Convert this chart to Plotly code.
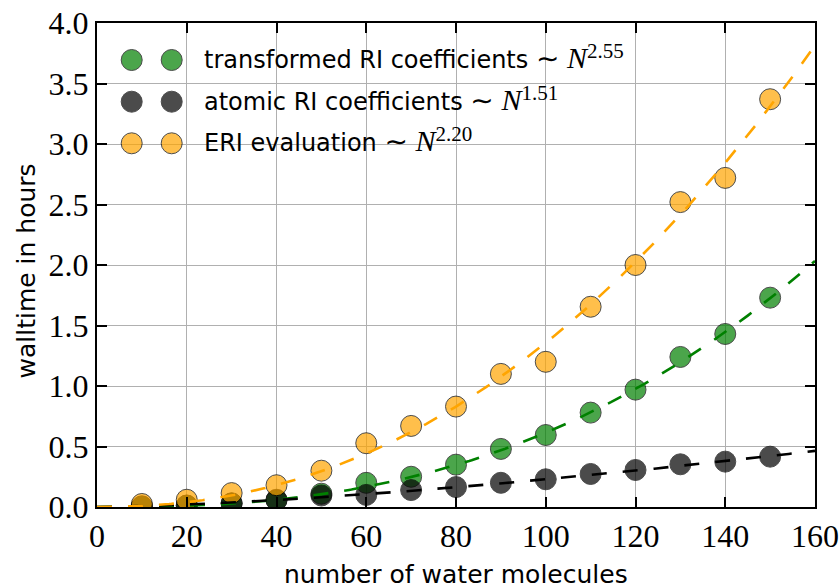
import numpy as np
import plotly.graph_objects as go

# ---- data ----
n_water = [10, 20, 30, 40, 50, 60, 70, 80, 90, 100, 110, 120, 130, 140, 150]
t_transformed = [0.005, 0.012, 0.03, 0.056, 0.11, 0.20, 0.25, 0.35, 0.48, 0.595, 0.78, 0.97, 1.24, 1.43, 1.73]
t_atomic = [0.005, 0.012, 0.03, 0.06, 0.095, 0.10, 0.14, 0.165, 0.20, 0.229, 0.273, 0.306, 0.353, 0.375, 0.416]
t_eri = [0.025, 0.06, 0.115, 0.18, 0.30, 0.527, 0.67, 0.83, 1.10, 1.20, 1.655, 2.00, 2.52, 2.72, 3.37]

# power-law fits  t = a * N^p
fit_prefactor = {"transformed": 4.87e-6, "atomic": 2.18e-4, "eri": 5.4e-5}
fit_exponent = {"transformed": 2.55, "atomic": 1.51, "eri": 2.20}
fit_range = [0, 160]

labels = {
    "transformed": "transformed RI coefficients",
    "atomic": "atomic RI coefficients",
    "eri": "ERI evaluation",
}
x_ticks = [0, 20, 40, 60, 80, 100, 120, 140, 160]
y_ticks = [0.0, 0.5, 1.0, 1.5, 2.0, 2.5, 3.0, 3.5, 4.0]

colors = {"transformed": "#008000", "atomic": "#000000", "eri": "#FFA500"}
series = {"transformed": t_transformed, "atomic": t_atomic, "eri": t_eri}
order = ["transformed", "atomic", "eri"]

SERIF = "Liberation Serif"
SANS = "DejaVu Sans"

fig = go.Figure()

for key in order:
    fig.add_trace(go.Scatter(
        x=n_water, y=series[key], mode="markers",
        marker=dict(size=21, color=colors[key], opacity=0.7,
                    line=dict(color="black", width=1)),
        showlegend=False, cliponaxis=True,
    ))

xf = np.linspace(fit_range[0], fit_range[1], 300)
for key in order:
    yf = fit_prefactor[key] * xf ** fit_exponent[key]
    fig.add_trace(go.Scatter(
        x=xf, y=yf, mode="lines",
        line=dict(color=colors[key], width=2.6, dash="15px,16px"),
        showlegend=False, hoverinfo="skip",
    ))

# ---- manual legend (two markers per entry, like the reference) ----
L, R, T, B = 97, 25, 23, 78
W, H = 840 - L - R, 585 - T - B
def px_x(p):
    return (p - L) / W
def px_y(p):
    return (T + H - p) / H

shapes = []
annotations = []
row_y = [60, 101.7, 143.3]
for i, key in enumerate(order):
    for cx in (131.7, 171.7):
        shapes.append(dict(
            type="circle", xref="paper", yref="paper",
            xsizemode="pixel", ysizemode="pixel",
            xanchor=px_x(cx), yanchor=px_y(row_y[i]),
            x0=-10.5, x1=10.5, y0=-10.5, y1=10.5,
            fillcolor=colors[key], opacity=0.7,
            line=dict(color="black", width=1), layer="above",
        ))
    exp = f"{fit_exponent[key]:.2f}"
    txt = (f"{labels[key]} "
           f"<span style=\"font-family:DejaVu Sans;font-size:28px\">∼</span> "
           f"<span style=\"font-family:{SERIF};font-size:30px\"><i>N</i></span>"
           f"<sup><span style=\"font-family:{SERIF};font-size:21px\">{exp}</span></sup>")
    annotations.append(dict(
        xref="paper", yref="paper", x=px_x(202), y=px_y(row_y[i] - 3),
        xanchor="left", yanchor="middle", text=txt, showarrow=False,
        font=dict(family=SANS, size=24, color="black"),
    ))

annotations.append(dict(
    xref="paper", yref="paper", x=0.5, y=0, yanchor="middle", xanchor="center",
    yshift=-67.5, text="number of water molecules", showarrow=False,
    font=dict(family=SANS, size=25, color="black"),
))
annotations.append(dict(
    xref="paper", yref="paper", x=0, y=px_y(271), xanchor="center", yanchor="middle",
    xshift=-71.5, text="walltime in hours", textangle=-90, showarrow=False,
    font=dict(family=SANS, size=25, color="black"),
))

axis_common = dict(
    showline=True, linecolor="black", linewidth=2, mirror="ticks",
    ticks="inside", ticklen=10, tickwidth=1.5, tickcolor="black",
    showgrid=True, gridcolor="#b0b0b0", gridwidth=1, zeroline=False,
    tickfont=dict(family=SERIF, size=32, color="black"),
    automargin=False,
)

fig.update_layout(
    width=840, height=585,
    margin=dict(l=L, r=R, t=T, b=B),
    paper_bgcolor="white", plot_bgcolor="white",
    xaxis=dict(range=[0, 160], tickvals=x_ticks, ticktext=[str(v) for v in x_ticks], **axis_common),
    yaxis=dict(range=[0, 4.0], tickvals=y_ticks, ticktext=[f"{v:.1f}" for v in y_ticks], **axis_common),
    shapes=shapes, annotations=annotations, showlegend=False,
)

fig.write_html("out.html", config={"displayModeBar": False},
               post_script="document.body.style.margin='0px';document.body.style.overflow='hidden';")
